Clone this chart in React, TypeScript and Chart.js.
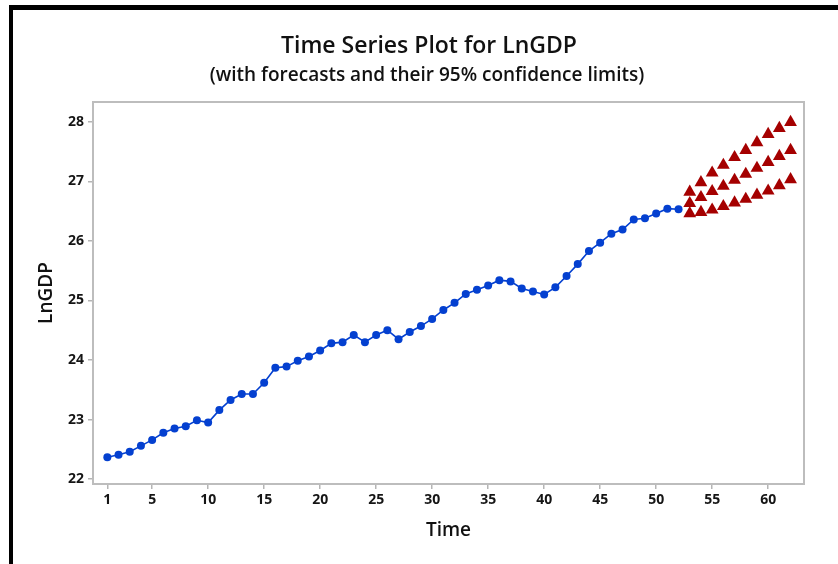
import React, { useEffect, useRef } from 'react';
import { Chart, registerables } from 'chart.js';

Chart.register(...registerables);

const titleText = 'Time Series Plot for LnGDP';
const subtitleText = '(with forecasts and their 95% confidence limits)';
const xAxisTitle = 'Time';
const yAxisTitle = 'LnGDP';

const xTickValues = [1, 5, 10, 15, 20, 25, 30, 35, 40, 45, 50, 55, 60];
const yTickValues = [22, 23, 24, 25, 26, 27, 28];

const observedTime = [
  1, 2, 3, 4, 5, 6, 7, 8, 9, 10, 11, 12, 13, 14, 15, 16, 17, 18, 19, 20, 21, 22, 23, 24, 25, 26,
  27, 28, 29, 30, 31, 32, 33, 34, 35, 36, 37, 38, 39, 40, 41, 42, 43, 44, 45, 46, 47, 48, 49, 50, 51, 52,
];
const lnGDP = [
  22.37, 22.41, 22.46, 22.56, 22.66, 22.78, 22.85, 22.89, 22.99, 22.95,
  23.16, 23.33, 23.43, 23.43, 23.62, 23.87, 23.89, 23.99, 24.06, 24.16,
  24.28, 24.30, 24.42, 24.30, 24.42, 24.50, 24.35, 24.47, 24.57, 24.69,
  24.84, 24.96, 25.11, 25.18, 25.25, 25.34, 25.32, 25.20, 25.15, 25.10,
  25.22, 25.41, 25.61, 25.83, 25.97, 26.12, 26.19, 26.36, 26.38, 26.46,
  26.54, 26.53,
];

const forecastTime = [53, 54, 55, 56, 57, 58, 59, 60, 61, 62];
const forecast = [26.63, 26.73, 26.83, 26.92, 27.02, 27.12, 27.22, 27.32, 27.42, 27.52];
const upperLimit = [26.82, 26.98, 27.14, 27.27, 27.40, 27.52, 27.65, 27.79, 27.89, 27.99];
const lowerLimit = [26.46, 26.48, 26.52, 26.58, 26.64, 26.70, 26.77, 26.84, 26.93, 27.03];

const FONT = '"Open Sans", "Noto Sans", sans-serif';

const framePlugin = {
  id: 'frameAndTitles',
  beforeDraw(chart: any) {
    const ctx = chart.ctx;
    ctx.save();
    ctx.fillStyle = '#ffffff';
    ctx.fillRect(0, 0, chart.width, chart.height);
    ctx.fillStyle = '#000000';
    ctx.fillRect(9, 5, chart.width - 9, 5);
    ctx.fillRect(9, 5, 4, chart.height - 5);
    ctx.fillStyle = '#111111';
    ctx.textAlign = 'center';
    ctx.textBaseline = 'middle';
    ctx.font = `600 23px ${FONT}`;
    ctx.fillText(titleText, 429, 46);
    ctx.font = `600 19px ${FONT}`;
    ctx.fillText(subtitleText, 427, 76);
    ctx.restore();
  },
  beforeDatasetsDraw(chart: any) {
    const ctx = chart.ctx;
    const { left, top, right, bottom } = chart.chartArea;
    ctx.save();
    ctx.strokeStyle = '#bdbdbd';
    ctx.lineWidth = 2;
    ctx.strokeRect(left, top, right - left, bottom - top);
    ctx.restore();
  },
};

export default function App() {
  const canvasRef = useRef<HTMLCanvasElement | null>(null);

  useEffect(() => {
    document.body.style.margin = '0';
    const canvas = canvasRef.current;
    if (!canvas) return;

    const observedPoints = observedTime.map((t, i) => ({ x: t, y: lnGDP[i] }));
    const fcPoints = forecastTime.map((t, i) => ({ x: t, y: forecast[i] }));
    const upPoints = forecastTime.map((t, i) => ({ x: t, y: upperLimit[i] }));
    const loPoints = forecastTime.map((t, i) => ({ x: t, y: lowerLimit[i] }));

    const red = '#a50000';
    const blue = '#0440d0';

    const triangleSet = (label: string, data: any[]) => ({
      label,
      data,
      showLine: false,
      pointStyle: 'triangle',
      pointRadius: 7.4,
      pointBorderWidth: 0,
      pointBackgroundColor: red,
      borderColor: red,
    });

    const chart = new Chart(canvas, {
      type: 'line',
      data: {
        datasets: [
          {
            label: 'LnGDP',
            data: observedPoints,
            borderColor: blue,
            backgroundColor: blue,
            borderWidth: 1.6,
            pointRadius: 4,
            pointBorderWidth: 0,
            pointBackgroundColor: blue,
            tension: 0,
          },
          triangleSet('Upper', upPoints),
          triangleSet('Forecast', fcPoints),
          triangleSet('Lower', loPoints),
        ] as any,
      },
      options: {
        animation: false,
        responsive: false,
        maintainAspectRatio: false,
        layout: { padding: { left: 14, right: 34, top: 102, bottom: 0 } },
        plugins: {
          legend: { display: false },
          tooltip: { enabled: false },
          title: { display: false },
        },
        scales: {
          x: {
            type: 'linear',
            min: -0.28,
            max: 63.2,
            afterBuildTicks: (scale: any) => {
              scale.ticks = xTickValues.map((v) => ({ value: v }));
            },
            afterFit: (scale: any) => {
              scale.height = 80;
            },
            ticks: {
              autoSkip: false,
              maxRotation: 0,
              padding: 3,
              color: '#151515',
              font: { family: FONT, size: 14, weight: '700' },
            },
            grid: {
              display: true,
              drawOnChartArea: false,
              drawTicks: true,
              tickLength: 5,
              color: '#b5b5b5',
              lineWidth: 1.5,
            },
            border: { display: false },
            title: {
              display: true,
              text: xAxisTitle,
              color: '#111111',
              font: { family: FONT, size: 19, weight: '600' },
              padding: { top: 0, bottom: 22 },
            },
          },
          y: {
            type: 'linear',
            min: 21.92,
            max: 28.33,
            afterBuildTicks: (scale: any) => {
              scale.ticks = yTickValues.map((v) => ({ value: v }));
            },
            afterFit: (scale: any) => {
              scale.width = 79;
            },
            ticks: {
              padding: 4,
              color: '#151515',
              font: { family: FONT, size: 14, weight: '700' },
            },
            grid: {
              display: true,
              drawOnChartArea: false,
              drawTicks: true,
              tickLength: 5,
              color: '#b5b5b5',
              lineWidth: 1.5,
            },
            border: { display: false },
            title: {
              display: true,
              text: yAxisTitle,
              color: '#111111',
              font: { family: FONT, size: 19, weight: '600' },
              padding: { top: 21, bottom: 0 },
            },
          },
        },
      },
      plugins: [framePlugin],
    });

    return () => {
      chart.destroy();
    };
  }, []);

  return (
    <div style={{ width: 838, height: 564, position: 'relative' }}>
      <canvas ref={canvasRef} width={838} height={564} style={{ display: 'block', width: 838, height: 564 }} />
    </div>
  );
}
